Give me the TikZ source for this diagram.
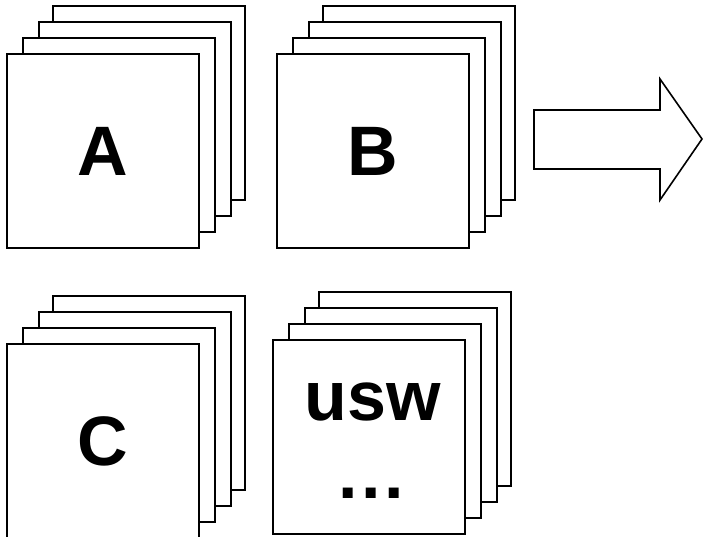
\documentclass[tikz,border=0pt]{standalone}
\usepackage{fontspec}
\setmainfont{Liberation Sans}
\begin{document}
\begin{tikzpicture}[x=1pt,y=-1pt,
  sheet/.style={draw=black, line width=2pt, fill=white, rectangle, inner sep=0pt,
    minimum width=192pt, minimum height=194pt, anchor=north west},
  big/.style={font=\fontsize{70}{70}\selectfont\bfseries, inner sep=0pt},
  arrowshape/.style={draw=black, line width=1.6pt, fill=white, line join=miter}]
\useasboundingbox (0,0) rectangle (704,536);
% stack A
\node[sheet] (a4) at (52,5) {};
\node[sheet] (a3) at (38,21) {};
\node[sheet] (a2) at (22,37) {};
\node[sheet] (a1) at (6,53) {};
\node[big] (ta) at (a1.center) {A};
% stack B
\node[sheet] (b4) at (322,5) {};
\node[sheet] (b3) at (308,21) {};
\node[sheet] (b2) at (292,37) {};
\node[sheet] (b1) at (276,53) {};
\node[big] (tb) at (b1.center) {B};
% stack C
\node[sheet] (c4) at (52,295) {};
\node[sheet] (c3) at (38,311) {};
\node[sheet] (c2) at (22,327) {};
\node[sheet] (c1) at (6,343) {};
\node[big] (tc) at (c1.center) {C};
% stack usw
\node[sheet] (d4) at (318,291) {};
\node[sheet] (d3) at (304,307) {};
\node[sheet] (d2) at (288,323) {};
\node[sheet] (d1) at (272,339) {};
\node[big, anchor=base] (td) at (373,420) {usw};
\node[big, anchor=base] (te) at (371,498) {.\hspace{3.5pt}.\hspace{3.5pt}.};
% arrow
\draw[arrowshape] (534,110) -- (660,110) -- (660,79) -- (702,139) -- (660,200) -- (660,169) -- (534,169) -- cycle;
\end{tikzpicture}
\end{document}
